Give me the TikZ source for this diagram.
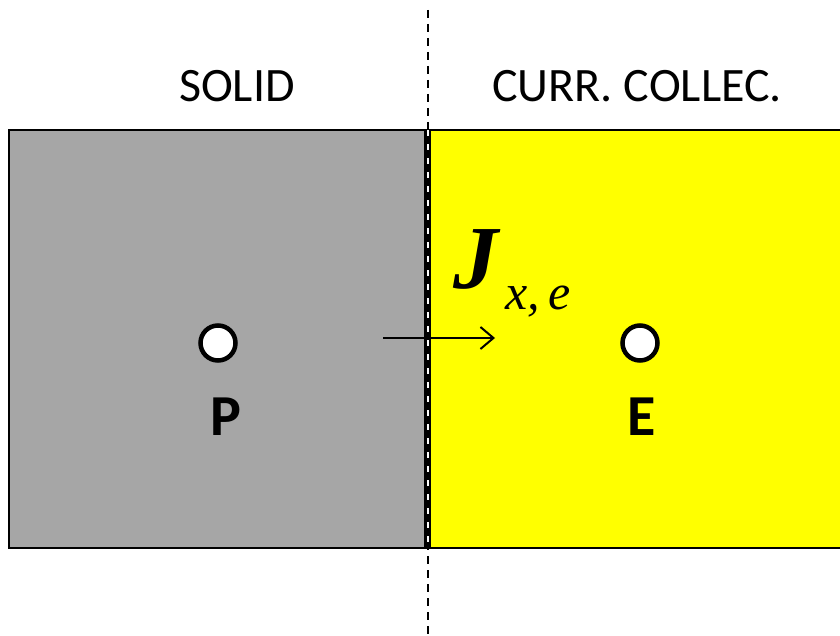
\documentclass[tikz,border=0pt]{standalone}
\usepackage{fontspec}
\setmainfont{Carlito}
\newfontfamily\tnr{Liberation Serif}
\usetikzlibrary{arrows.meta}
\definecolor{solidgray}{RGB}{166,166,166}
\definecolor{ccyellow}{RGB}{255,255,0}
\begin{document}
\begin{tikzpicture}[x=1pt,y=-1pt,
  box/.style={draw=black,line width=2.5pt,inner sep=0pt,outer sep=0pt},
  pnt/.style={circle,draw=black,fill=white,line width=4.5pt,minimum size=35pt,inner sep=0pt},
  lbl/.style={font=\fontsize{48}{54}\selectfont,inner sep=0pt},
  blbl/.style={font=\fontsize{58}{64}\selectfont\bfseries,inner sep=0pt}]
\useasboundingbox (0,0) rectangle (840,636);
\fill[white] (0,0) rectangle (840,636);
\node[box,fill=solidgray,minimum width=416.5pt,minimum height=418pt] (solid) at (217.25,339) {};
\node[box,fill=ccyellow,minimum width=430pt,minimum height=418pt] (cc) at (645,339) {};
\coordinate (d1) at (428,10);
\coordinate (d2) at (428,636);
\draw[line width=2pt,dash pattern=on 8pt off 6pt] (d1) -- (d2);
\node[lbl] (tsolid) at (237,86) {SOLID};
\node[lbl] (tcc) at (637,86) {CURR. COLLEC.};
\node[pnt] (P) at (218,343) {};
\node[pnt] (E) at (640,343) {};
\node[blbl] (tP) at (226,417) {P};
\node[blbl] (tE) at (642,417) {E};
\coordinate (a1) at (383,338);
\coordinate (a2) at (495,338);
\draw[line width=2pt,-{Straight Barb[length=13pt,width=22pt]}] (a1) -- (a2);
\node[anchor=base west,inner sep=0pt,font=\tnr\fontsize{90}{96}\selectfont\bfseries\itshape] (J) at (453,288) {J};
\node[anchor=base west,inner sep=0pt,font=\tnr\fontsize{50}{56}\selectfont\itshape] (Jsub) at (505,309) {x,\hspace{9pt}e};
\end{tikzpicture}
\end{document}
